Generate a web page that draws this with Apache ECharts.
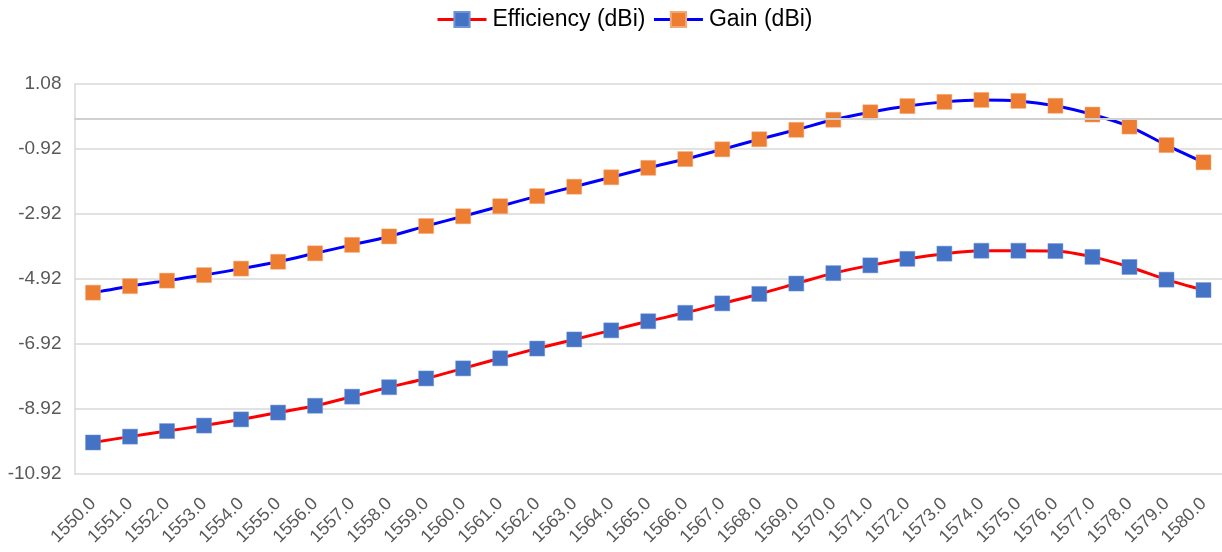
<!DOCTYPE html>
<html><head><meta charset="utf-8">
<script src="https://cdn.jsdelivr.net/npm/echarts@6/dist/echarts.min.js"></script>
<style>html,body{margin:0;padding:0;background:#fff}#c{width:1222px;height:552px}</style>
</head><body><div id="c"></div>
<script>
var categories = ['1550.0','1551.0','1552.0','1553.0','1554.0','1555.0','1556.0','1557.0','1558.0','1559.0','1560.0','1561.0','1562.0','1563.0','1564.0','1565.0','1566.0','1567.0','1568.0','1569.0','1570.0','1571.0','1572.0','1573.0','1574.0','1575.0','1576.0','1577.0','1578.0','1579.0','1580.0'];
var efficiency = [-9.95,-9.77,-9.60,-9.43,-9.24,-9.03,-8.82,-8.54,-8.25,-7.98,-7.67,-7.36,-7.06,-6.78,-6.50,-6.22,-5.96,-5.67,-5.38,-5.06,-4.74,-4.50,-4.30,-4.14,-4.05,-4.05,-4.06,-4.24,-4.55,-4.94,-5.26];
var gain = [-5.34,-5.14,-4.97,-4.80,-4.60,-4.39,-4.13,-3.87,-3.61,-3.29,-2.99,-2.68,-2.37,-2.08,-1.79,-1.50,-1.23,-0.93,-0.62,-0.33,-0.02,0.21,0.40,0.53,0.59,0.56,0.41,0.14,-0.23,-0.80,-1.33];
var yTicks = {min:-10.92, max:1.08, interval:2};

var chart = echarts.init(document.getElementById('c'));
var font = 'Liberation Sans, Arial, sans-serif';
chart.setOption({
  animation:false,
  textStyle:{fontFamily:font},
  legend:{
    top:3, left:431, itemWidth:49, itemHeight:19, itemGap:7,
    lineStyle:{width:3},
    textStyle:{fontSize:23, color:'#000', fontFamily:font, padding:[0,0,0,1]},
    data:['Efficiency (dBi)','Gain (dBi)']
  },
  grid:{left:74.5, top:84, width:1154.5, height:390, containLabel:false},
  xAxis:{
    type:'category', data:categories, boundaryGap:true,
    axisLine:{show:true, lineStyle:{color:'#d9d9d9', width:1.5}},
    axisTick:{show:false},
    axisLabel:{rotate:45, fontSize:18, color:'#595959', margin:27, interval:0, fontFamily:font}
  },
  yAxis:{
    type:'value', min:yTicks.min, max:yTicks.max, interval:yTicks.interval,
    axisLine:{show:true, lineStyle:{color:'#d9d9d9', width:1.5}},
    axisTick:{show:false},
    splitLine:{lineStyle:{color:'#d9d9d9', width:1.5}},
    axisLabel:{fontSize:19, color:'#595959', margin:13, fontFamily:font,
      formatter:function(v){return v.toFixed(2);}}
  },
  series:[
    {name:'Efficiency (dBi)', type:'line', data:efficiency, smooth:0.3,
     symbol:'rect', symbolSize:15,
     lineStyle:{color:'#ff0000', width:3},
     itemStyle:{color:'#4472c4', borderColor:'#6f93d6', borderWidth:0.5},
     markLine:{silent:true, symbol:'none', label:{show:false},
       lineStyle:{color:'#d0d0d0', width:2, type:'solid'}, data:[{yAxis:0}]}},
    {name:'Gain (dBi)', type:'line', data:gain, smooth:0.3,
     symbol:'rect', symbolSize:15,
     lineStyle:{color:'#0000ff', width:3},
     itemStyle:{color:'#ed7d31', borderColor:'#f3a877', borderWidth:0.5}}
  ]
});
</script></body></html>
